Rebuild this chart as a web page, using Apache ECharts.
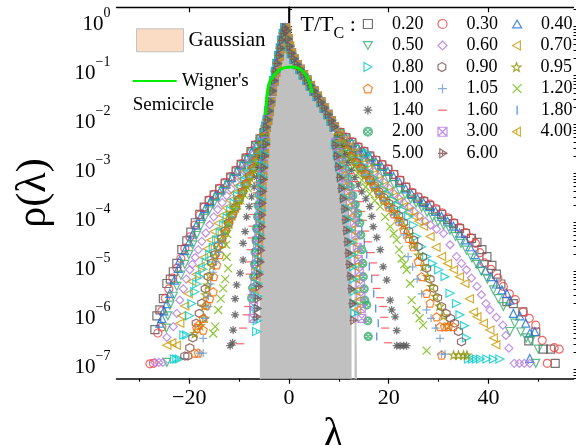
<!DOCTYPE html>
<html>
<head>
<meta charset="utf-8">
<script src="https://cdn.jsdelivr.net/npm/echarts@6/dist/echarts.min.js"></script>
<style>html,body{margin:0;padding:0;background:#fff}#chart{width:576px;height:445px}</style>
</head>
<body>
<div id="chart"></div>
<script>
// Eigenvalue density rho(lambda) for several temperature ratios T/Tc.
// Every point is [lambda, log10(rho)]; rho is restored when series are built.

const tempLabels = ['0.20','0.30','0.40','0.50','0.60','0.70','0.80','0.90','0.95','1.00',
                    '1.05','1.20','1.40','1.60','1.80','2.00','3.00','4.00','5.00','6.00'];

// shared central band (all temperatures coincide here)
const coreBand = [[-4.6,-2.1],[-4.3,-1.95],[-4.0,-1.77],[-3.7,-1.58],[-3.35,-1.36],[-3.0,-1.15],[-2.7,-0.97],[-2.35,-0.8],[-2.0,-0.64],[-1.7,-0.49],[-1.4,-0.33],[-1.1,-0.19],[-0.8,-0.07],[-0.5,-0.13],[-0.2,-0.3],[0.1,-0.45],[0.5,-0.59],[1.0,-0.71],[1.6,-0.82],[2.2,-0.92],[2.9,-1.03],[3.6,-1.14],[4.3,-1.25],[5.0,-1.36],[5.7,-1.47],[6.4,-1.59],[7.1,-1.71],[7.8,-1.84],[8.5,-1.97],[9.1,-2.09]];

// left tails
const t020L = [[-5,-2.21],[-5.8,-2.34],[-6.7,-2.47],[-7.6,-2.6],[-8.6,-2.73],[-9.6,-2.86],[-10.6,-2.99],[-11.7,-3.12],[-12.8,-3.24],[-13.9,-3.36],[-15,-3.48],[-16,-3.6],[-17,-3.73],[-17.9,-3.88],[-18.8,-4.05],[-19.7,-4.24],[-20.5,-4.42],[-21.5,-4.6],[-22.5,-4.88],[-23.2,-5.05],[-23.8,-5.2],[-24.5,-5.29],[-25.2,-5.6],[-25.9,-5.83],[-26.5,-5.95],[-26.9,-6.23]];
const t030L = [[-5,-2.2],[-5.8,-2.33],[-6.7,-2.46],[-7.6,-2.59],[-8.6,-2.72],[-9.6,-2.85],[-10.6,-2.98],[-11.7,-3.11],[-12.8,-3.23],[-13.9,-3.35],[-15,-3.47],[-16,-3.59],[-17,-3.73],[-17.9,-3.89],[-18.9,-4.1],[-19.9,-4.34],[-20.9,-4.57],[-21.7,-4.78],[-22.5,-4.98],[-23.3,-5.18],[-24.1,-5.4],[-24.8,-5.59],[-25.5,-5.85],[-25.5,-6.18],[-26.3,-6.3],[-27.2,-6.92],[-27.9,-6.93]];
const t040L = [[-5,-2.22],[-5.8,-2.35],[-6.6,-2.48],[-7.5,-2.61],[-8.5,-2.74],[-9.5,-2.87],[-10.5,-3.0],[-11.5,-3.13],[-12.6,-3.26],[-13.7,-3.38],[-14.8,-3.5],[-15.8,-3.62],[-16.8,-3.76],[-17.7,-3.92],[-18.6,-4.1],[-19.3,-4.28],[-20,-4.44],[-20.9,-4.62],[-21.9,-4.81],[-22.2,-4.98],[-23,-5.22],[-23.9,-5.49],[-24.5,-5.7],[-25.1,-5.85],[-25.5,-6.0],[-25.9,-6.1]];
const t050L = [[-5,-2.23],[-5.7,-2.36],[-6.5,-2.5],[-7.4,-2.63],[-8.3,-2.76],[-9.2,-2.89],[-10.2,-3.02],[-11.2,-3.15],[-12.2,-3.28],[-13.2,-3.41],[-14.2,-3.54],[-15.2,-3.67],[-16.1,-3.81],[-17,-3.96],[-17.8,-4.13],[-18.6,-4.31],[-19.3,-4.5],[-20.1,-4.7],[-20.9,-4.9],[-21.7,-5.12],[-22.5,-5.35],[-23.2,-5.55],[-23.9,-5.73],[-24.3,-5.95],[-24.6,-6.2],[-24.5,-6.9]];
const t060L = [[-4.9,-2.24],[-5.6,-2.38],[-6.4,-2.52],[-7.2,-2.66],[-8,-2.8],[-8.9,-2.94],[-9.8,-3.08],[-10.7,-3.22],[-11.6,-3.36],[-12.5,-3.5],[-13.4,-3.64],[-14.3,-3.78],[-15.1,-3.93],[-15.9,-4.09],[-16.7,-4.26],[-17.5,-4.43],[-18.2,-4.6],[-18.8,-4.76],[-19.4,-4.9],[-19.9,-5.01],[-20.6,-5.2],[-21.2,-5.4],[-21.9,-5.63],[-22.5,-5.9],[-23.2,-6.17],[-24.5,-6.39],[-25.3,-6.9],[-26.1,-6.9],[-26.9,-6.9]];
const t070L = [[-4.9,-2.25],[-5.5,-2.4],[-6.2,-2.55],[-7,-2.7],[-7.8,-2.85],[-8.6,-3.0],[-9.4,-3.15],[-10.2,-3.3],[-11,-3.45],[-11.8,-3.6],[-12.6,-3.75],[-13.4,-3.9],[-14.2,-4.06],[-15,-4.23],[-15.7,-4.4],[-16.4,-4.58],[-17.1,-4.76],[-17.8,-4.94],[-18.6,-5.1],[-19.5,-5.25],[-20.2,-5.5],[-20.9,-5.75],[-21.5,-5.95],[-21.9,-6.1],[-22.6,-6.55],[-23.5,-6.5],[-24.5,-6.55]];
const t080L = [[-4.9,-2.26],[-5.5,-2.42],[-6.1,-2.58],[-6.8,-2.74],[-7.5,-2.9],[-8.2,-3.05],[-8.9,-3.2],[-9.6,-3.35],[-10.3,-3.5],[-11,-3.65],[-11.7,-3.8],[-12.4,-3.95],[-13.1,-4.1],[-13.8,-4.25],[-14.5,-4.4],[-15.2,-4.55],[-15.9,-4.7],[-16.6,-4.85],[-17.3,-5.0],[-17.9,-5.15],[-18.5,-5.3],[-18.9,-5.46],[-19.5,-5.7],[-20,-5.95],[-20.5,-6.34],[-21.1,-6.34],[-22,-6.83],[-22.5,-6.83],[-23,-6.83]];
const t090L = [[-4.9,-2.27],[-5.4,-2.43],[-6,-2.6],[-6.6,-2.77],[-7.2,-2.93],[-7.9,-3.09],[-8.6,-3.25],[-9.3,-3.41],[-10,-3.57],[-10.7,-3.73],[-11.4,-3.89],[-12.1,-4.05],[-12.8,-4.21],[-13.5,-4.37],[-14.2,-4.53],[-14.9,-4.7],[-15.5,-4.87],[-16.2,-5.15],[-16.8,-5.4],[-17.5,-5.69],[-18,-5.9],[-18.6,-6.1],[-19.3,-6.4],[-19.9,-6.6],[-20.3,-6.77],[-20.9,-6.77]];
const t095L = [[-4.9,-2.27],[-5.4,-2.44],[-6,-2.61],[-6.6,-2.78],[-7.2,-2.94],[-7.9,-3.1],[-8.6,-3.26],[-9.3,-3.42],[-10,-3.58],[-10.7,-3.74],[-11.4,-3.9],[-12.1,-4.06],[-12.8,-4.22],[-13.5,-4.39],[-14.2,-4.56],[-14.8,-4.73],[-15.4,-4.92],[-15.9,-5.12],[-16.3,-5.32],[-16.7,-5.52],[-17,-5.75],[-16.9,-6.0],[-17.8,-6.15],[-18.9,-6.31]];
const t100L = [[-4.9,-2.28],[-5.4,-2.45],[-6,-2.62],[-6.6,-2.79],[-7.2,-2.95],[-7.9,-3.11],[-8.6,-3.27],[-9.3,-3.43],[-10,-3.59],[-10.7,-3.75],[-11.4,-3.91],[-12.1,-4.08],[-12.8,-4.25],[-13.3,-4.47],[-13.9,-4.7],[-14.5,-4.91],[-15.1,-5.15],[-15.2,-5.46],[-15.9,-5.6],[-16.5,-5.73],[-17.2,-6.0],[-17.2,-6.24],[-18.2,-6.14],[-18.5,-6.2],[-18.9,-6.71],[-18.2,-6.71]];
const t105L = [[-4.9,-2.28],[-5.4,-2.46],[-6,-2.63],[-6.6,-2.8],[-7.2,-2.96],[-7.9,-3.12],[-8.6,-3.28],[-9.3,-3.44],[-10,-3.6],[-10.7,-3.76],[-11.4,-3.93],[-12.1,-4.1],[-12.8,-4.28],[-13.4,-4.46],[-14,-4.65],[-14.6,-4.85],[-15.2,-5.06],[-15.7,-5.3],[-16.2,-5.55],[-16.2,-5.76],[-16.8,-6.0],[-17.2,-6.41],[-17.9,-6.71],[-17.2,-6.71]];
const t120L = [[-4.8,-2.3],[-5.3,-2.48],[-5.8,-2.66],[-6.4,-2.84],[-7,-3.01],[-7.6,-3.18],[-8.3,-3.34],[-9,-3.48],[-9.7,-3.6],[-10.4,-3.7],[-11.1,-3.79],[-11.8,-3.88],[-12.1,-4.08],[-12.4,-4.28],[-12.6,-4.5],[-12.5,-4.75],[-12.2,-4.98],[-12.8,-5.2],[-13.2,-5.39],[-13.7,-5.6],[-14.2,-5.83],[-14.8,-6.17],[-15.2,-6.31]];
const t140L = [[-4.8,-2.32],[-5.2,-2.52],[-5.6,-2.72],[-6,-2.92],[-6.5,-3.12],[-7,-3.32],[-7.5,-3.52],[-8,-3.72],[-8.5,-3.93],[-8.8,-4.23],[-9.2,-4.47],[-9.2,-4.81],[-9.8,-5.08],[-10.5,-5.32],[-10.8,-5.6],[-10.8,-5.93],[-11.2,-6.24],[-11.8,-6.56],[-11.3,-6.5]];
const t160L = [[-4.8,-2.34],[-5.1,-2.56],[-5.4,-2.78],[-5.8,-3.0],[-6.2,-3.22],[-6.5,-3.44],[-6.8,-3.66],[-7.1,-3.88],[-7.3,-4.12],[-7.5,-4.36],[-7.7,-4.6],[-7.8,-4.85],[-7.9,-5.1],[-7.5,-5.52],[-8.2,-5.76],[-8.5,-5.93],[-9.2,-6.2],[-9.8,-6.52]];
const t180L = [[-4.8,-2.35],[-5.1,-2.58],[-5.4,-2.8],[-5.7,-3.02],[-6,-3.24],[-6.3,-3.46],[-6.6,-3.68],[-6.8,-3.92],[-7,-4.16],[-7.2,-4.4],[-7.3,-4.65],[-7.4,-4.9],[-7.5,-5.15],[-7.6,-5.45],[-7.8,-5.83]];
const t200L = [[-4.8,-2.37],[-5.1,-2.6],[-5.4,-2.82],[-5.6,-3.04],[-5.8,-3.26],[-6,-3.48],[-6.2,-3.7],[-6.3,-3.93],[-6.5,-4.17],[-6.6,-4.41],[-6.8,-4.65],[-6.9,-4.9],[-7.1,-5.15],[-7.3,-5.38],[-7.5,-5.59]];
const t300L = [[-4.7,-2.39],[-4.9,-2.62],[-5.1,-2.85],[-5.3,-3.08],[-5.5,-3.3],[-5.6,-3.52],[-5.8,-3.75],[-5.9,-4.0],[-6.1,-4.25],[-6.3,-4.5],[-6.5,-4.75],[-6.7,-5.0],[-6.8,-5.25],[-7,-5.5],[-7.1,-5.75],[-7.2,-6.0]];
const t400L = [[-4.7,-2.41],[-4.9,-2.64],[-5.1,-2.87],[-5.2,-3.1],[-5.4,-3.32],[-5.5,-3.55],[-5.6,-3.78],[-5.8,-4.02],[-5.9,-4.26],[-6.1,-4.5],[-6.3,-4.75],[-6.5,-5.0],[-6.6,-5.2],[-6.8,-5.42]];
const t500L = [[-4.7,-2.43],[-4.9,-2.66],[-5,-2.89],[-5.2,-3.12],[-5.3,-3.35],[-5.4,-3.58],[-5.5,-3.8],[-5.7,-4.05],[-5.8,-4.3],[-5.9,-4.55],[-6,-4.8],[-6.1,-5.05],[-6.2,-5.3],[-6.3,-5.55],[-6.4,-5.8],[-6.4,-6.05],[-6.5,-6.27]];
const t600L = [[-4.7,-2.45],[-4.9,-2.69],[-5.1,-2.93],[-5.2,-3.17],[-5.3,-3.41],[-5.4,-3.65],[-5.5,-3.89],[-5.5,-4.13],[-5.6,-4.37],[-5.7,-4.61],[-5.8,-4.85],[-6,-5.1],[-6.1,-5.35],[-6.3,-5.6],[-6.4,-5.8],[-6.5,-5.97]];

// right tails
const t020R = [[10.2,-2.21],[11.4,-2.31],[12.6,-2.41],[13.8,-2.51],[15,-2.6],[16.2,-2.69],[17.4,-2.78],[18.6,-2.87],[19.8,-2.96],[21,-3.07],[22.2,-3.19],[23.4,-3.33],[24.6,-3.45],[25.8,-3.54],[27,-3.62],[28.2,-3.7],[29.4,-3.79],[30.6,-3.88],[31.8,-3.98],[33,-4.07],[34.2,-4.17],[35.4,-4.27],[36.6,-4.37],[37.7,-4.45],[38.7,-4.6],[39.7,-4.74],[40.7,-4.92],[41.6,-5.1],[42.5,-5.3],[43.7,-5.66],[45,-5.7],[46.9,-5.87],[48.1,-6.46],[49.5,-6.28],[51,-6.63],[52.5,-6.63],[53.4,-6.92]];
const t030R = [[10.3,-2.2],[11.5,-2.3],[12.7,-2.4],[13.9,-2.5],[15.1,-2.59],[16.3,-2.68],[17.5,-2.77],[18.7,-2.86],[19.9,-2.95],[21.1,-3.06],[22.3,-3.18],[23.5,-3.32],[24.7,-3.43],[25.9,-3.52],[27.1,-3.6],[28.3,-3.67],[29.5,-3.76],[30.7,-3.85],[31.9,-3.95],[33.1,-4.05],[34.3,-4.15],[35.5,-4.25],[36.5,-4.36],[37.4,-4.47],[38.3,-4.66],[39.2,-4.87],[40.5,-5.0],[41.9,-5.18],[43,-5.35],[44.2,-5.5],[45.4,-5.62],[47,-5.87],[48.2,-6.0],[49.5,-6.14],[50.8,-6.45],[51.8,-6.92],[53.2,-6.6],[54.2,-6.63]];
const t040R = [[10.2,-2.22],[11.4,-2.32],[12.6,-2.42],[13.8,-2.52],[15,-2.62],[16.2,-2.71],[17.4,-2.8],[18.6,-2.9],[19.8,-3.0],[21,-3.11],[22.2,-3.23],[23.4,-3.36],[24.6,-3.47],[25.8,-3.56],[27,-3.64],[28.2,-3.72],[29.4,-3.82],[30.6,-3.92],[31.8,-4.02],[33,-4.12],[34.2,-4.26],[35.3,-4.4],[36.3,-4.54],[37.3,-4.7],[38.3,-4.88],[39.4,-5.02],[40.5,-5.15],[41.6,-5.3],[42.7,-5.42],[43.7,-5.49],[44.3,-5.63],[45,-5.9],[46.3,-5.95],[47.5,-6.1],[48.3,-6.3],[49.3,-6.27],[48.3,-6.82]];
const t050R = [[10.1,-2.23],[11.2,-2.34],[12.3,-2.45],[13.4,-2.55],[14.5,-2.65],[15.6,-2.74],[16.7,-2.84],[17.8,-2.94],[18.9,-3.04],[20,-3.15],[21.1,-3.27],[22.2,-3.38],[23.3,-3.48],[24.4,-3.57],[25.5,-3.65],[26.6,-3.74],[27.7,-3.84],[28.8,-3.94],[29.9,-4.03],[31,-4.1],[32.3,-4.2],[33.4,-4.33],[34.5,-4.47],[35.6,-4.61],[36.7,-4.77],[37.7,-4.9],[38.6,-5.04],[39.8,-5.2],[41,-5.42],[42,-5.6],[43,-5.76],[44.3,-6.27],[45.3,-6.1],[46.5,-6.28],[47.6,-6.4],[48.5,-6.45],[50,-6.63],[49.5,-6.92]];
const t060R = [[10.1,-2.24],[11.1,-2.36],[12.1,-2.48],[13.1,-2.59],[14.1,-2.7],[15.1,-2.8],[16.1,-2.9],[17.1,-3.01],[18.1,-3.12],[19.1,-3.23],[20.1,-3.35],[21.1,-3.46],[22.1,-3.56],[23.1,-3.65],[24.1,-3.73],[25.1,-3.82],[26.2,-3.92],[27.3,-4.02],[28.4,-4.1],[29.6,-4.18],[31,-4.27],[32.3,-4.5],[33.6,-4.74],[34.6,-4.88],[35.6,-5.01],[36.6,-5.18],[37.7,-5.35],[38.6,-5.52],[39.5,-5.7],[40.3,-5.83],[41.6,-5.98],[42.9,-6.14],[43.5,-6.35],[44.1,-6.61],[45.2,-6.92],[46.2,-6.92],[47.2,-6.92],[48.3,-6.92]];
const t070R = [[10,-2.25],[11,-2.37],[12,-2.5],[13,-2.62],[14,-2.73],[15,-2.84],[16,-2.95],[17,-3.06],[18,-3.18],[19,-3.3],[20,-3.42],[21,-3.52],[22,-3.62],[23,-3.72],[24,-3.82],[25,-3.92],[26,-4.02],[27,-4.12],[28.3,-4.33],[29.5,-4.55],[30.6,-4.74],[31.8,-4.88],[33,-5.01],[34.2,-5.15],[35.3,-5.29],[36.2,-5.6],[37,-5.87],[37.7,-5.97],[39,-6.1],[40.3,-6.24],[41,-6.4],[41.5,-6.54]];
const t080R = [[10,-2.26],[11,-2.39],[12,-2.52],[13,-2.65],[14,-2.77],[15,-2.89],[16,-3.01],[17,-3.13],[18,-3.25],[19,-3.37],[20,-3.48],[21,-3.59],[22,-3.7],[23,-3.8],[24,-3.93],[25,-4.1],[25.6,-4.33],[26.6,-4.54],[27.6,-4.74],[28.8,-4.88],[30,-5.01],[31.3,-5.15],[32.3,-5.49],[33.6,-5.7],[34.3,-5.93],[35.2,-6.15],[35.6,-6.4],[36,-6.83],[36.8,-6.83],[37.6,-6.83],[38.4,-6.83],[39.7,-6.83],[41,-6.83],[42.3,-6.83]];
const t090R = [[9.9,-2.27],[10.8,-2.41],[11.7,-2.55],[12.6,-2.68],[13.5,-2.81],[14.4,-2.93],[15.3,-3.05],[16.2,-3.17],[17.1,-3.29],[18,-3.41],[19,-3.53],[20,-3.65],[21,-3.77],[22,-3.9],[23,-4.05],[24,-4.22],[25,-4.4],[25.9,-4.54],[26.8,-4.75],[27.6,-4.98],[28.3,-5.2],[29,-5.39],[29.8,-5.58],[30.6,-5.76],[31.5,-5.9],[32.4,-6.0],[33.2,-6.1],[34,-6.27],[34.6,-6.48]];
const t095R = [[9.9,-2.28],[10.8,-2.42],[11.7,-2.56],[12.6,-2.69],[13.5,-2.82],[14.4,-2.94],[15.3,-3.06],[16.2,-3.18],[17.1,-3.3],[18,-3.43],[19,-3.56],[20,-3.69],[21,-3.82],[22,-3.96],[23,-4.11],[24,-4.29],[25,-4.49],[26,-4.71],[27,-4.94],[27.8,-5.15],[28.6,-5.35],[29.4,-5.55],[30.2,-5.75],[31,-5.95],[31.8,-6.15],[33,-6.75],[34,-6.75],[35,-6.75],[35.7,-6.75]];
const t100R = [[9.9,-2.28],[10.8,-2.43],[11.7,-2.57],[12.6,-2.7],[13.5,-2.83],[14.4,-2.95],[15.3,-3.07],[16.2,-3.19],[17.1,-3.32],[18,-3.45],[19,-3.59],[20,-3.73],[21,-3.87],[22,-4.02],[23,-4.19],[24,-4.37],[24.9,-4.54],[25.9,-4.84],[26.6,-5.15],[27.6,-5.49],[28.3,-5.69],[29.6,-5.97],[30.3,-6.17],[31.2,-6.17],[32,-6.17],[33,-6.17],[30.6,-6.75]];
const t105R = [[9.9,-2.29],[10.8,-2.44],[11.7,-2.58],[12.6,-2.71],[13.5,-2.84],[14.4,-2.96],[15.3,-3.08],[16.2,-3.2],[17.1,-3.33],[18,-3.46],[19,-3.6],[20,-3.74],[21,-3.89],[22,-4.05],[23,-4.3],[23.9,-4.74],[24.8,-4.95],[25.7,-5.2],[26.6,-5.5],[27.6,-5.83],[28.5,-6.0],[29.4,-6.2],[30.3,-6.41],[30.6,-6.73],[31.3,-6.73]];
const t120R = [[9.8,-2.3],[10.6,-2.45],[11.4,-2.6],[12.2,-2.75],[13,-2.9],[13.8,-3.04],[14.6,-3.18],[15.4,-3.32],[16.2,-3.46],[17.2,-3.6],[18.3,-3.72],[19.3,-3.93],[20.3,-4.13],[21,-4.27],[21.6,-4.4],[22.1,-4.6],[22.6,-4.78],[23.1,-4.9],[23.6,-5.01],[24.3,-5.29],[24.6,-5.63],[25.6,-5.83],[26.2,-6.0],[26.9,-6.14],[27.6,-6.66]];
const t140R = [[9.7,-2.32],[10.4,-2.49],[11.1,-2.66],[11.8,-2.82],[12.5,-2.98],[13.2,-3.13],[13.9,-3.28],[14.6,-3.42],[15.4,-3.56],[16.2,-3.72],[16.6,-3.92],[16.9,-4.13],[17.6,-4.35],[18.3,-4.6],[18.9,-4.95],[19.6,-5.22],[20.3,-5.63],[20.6,-5.83],[21.3,-5.97],[21.6,-6.25],[21.6,-6.56],[22.3,-6.56],[23,-6.56],[23.6,-6.56]];
const t160R = [[9.6,-2.34],[10.3,-2.53],[11,-2.71],[11.7,-2.88],[12.4,-3.05],[13.1,-3.21],[13.7,-3.4],[14.2,-3.62],[14.5,-3.82],[14.8,-4.0],[15.3,-4.22],[15.8,-4.44],[16.4,-4.66],[16.9,-4.87],[17.3,-5.12],[17.6,-5.39],[18.3,-5.58],[18.9,-5.76],[19.1,-5.98],[19.3,-6.2],[19.9,-6.5]];
const t180R = [[9.6,-2.36],[10.2,-2.55],[10.8,-2.74],[11.4,-2.93],[12,-3.12],[12.6,-3.3],[13.1,-3.5],[13.6,-3.72],[14.1,-3.95],[14.6,-4.2],[15.1,-4.45],[15.6,-4.7],[16.1,-4.95],[16.6,-5.2],[17,-5.5],[17.4,-5.8],[17.9,-6.1],[17.6,-6.37]];
const t200R = [[9.5,-2.38],[10.1,-2.57],[10.7,-2.76],[11.3,-2.95],[11.8,-3.14],[12.3,-3.32],[12.8,-3.5],[13.3,-3.68],[13.8,-3.86],[14.2,-4.05],[14.4,-4.3],[14.6,-4.6],[14.8,-4.88],[14.9,-5.15],[15.1,-5.4],[15.2,-5.63],[15.6,-5.73],[15.8,-6.05],[15.9,-6.37]];
const t300R = [[9.4,-2.41],[9.9,-2.62],[10.4,-2.83],[10.9,-3.04],[11.4,-3.25],[11.9,-3.45],[12.3,-3.65],[12.7,-3.85],[13.1,-4.05],[13.4,-4.3],[13.7,-4.55],[13.9,-4.8],[14.1,-5.05],[14.3,-5.3],[14.4,-5.55],[14.5,-5.8],[14.6,-6.0]];
const t400R = [[9.4,-2.43],[9.8,-2.65],[10.2,-2.87],[10.6,-3.09],[11,-3.31],[11.4,-3.52],[11.8,-3.73],[12.2,-3.95],[12.5,-4.2],[12.8,-4.45],[13,-4.7],[13.2,-4.95],[13.3,-5.2],[13.4,-5.45],[13.5,-5.65],[13.6,-5.83]];
const t500R = [[9.3,-2.45],[9.7,-2.67],[10.1,-2.89],[10.5,-3.11],[10.9,-3.33],[11.3,-3.54],[11.7,-3.76],[12,-3.98],[12.3,-4.2],[12.5,-4.45],[12.7,-4.7],[12.9,-4.95],[13,-5.2],[13.1,-5.45],[13.2,-5.7],[13.2,-5.9]];
const t600R = [[9.3,-2.47],[9.6,-2.69],[9.9,-2.91],[10.2,-3.13],[10.5,-3.35],[10.8,-3.56],[11.1,-3.77],[11.3,-3.99],[11.5,-4.21],[11.7,-4.44],[11.9,-4.67],[12.1,-4.9],[12.3,-5.14],[12.5,-5.4],[12.7,-5.7],[12.9,-6.04]];

// Gaussian reference histogram (filled down to the axis floor)
const gaussianArea = [[-5.75,-9],[-5.75,-2.1],[-5.4,-1.95],[-5.0,-1.78],[-4.5,-1.6],[-4.0,-1.42],[-3.5,-1.22],[-3.0,-1.03],[-2.5,-0.82],[-2.0,-0.6],[-1.5,-0.38],[-1.1,-0.2],[-0.8,-0.04],[-0.5,-0.2],[-0.1,-0.4],[0.5,-0.62],[1.2,-0.8],[2.0,-0.95],[3.0,-1.1],[4.0,-1.27],[5.0,-1.45],[6.0,-1.63],[7.0,-1.82],[8.0,-2.05],[9.0,-2.3],[9.8,-2.6],[10.5,-3.0],[11.2,-3.4],[11.8,-3.8],[12.2,-4.3],[12.45,-4.8],[12.45,-9],[13.25,-9],[13.25,-3.6],[13.65,-3.6],[13.65,-9]];

// Wigner semicircle
const wignerCurve = [[-4.71,-1.85],[-4.51,-1.55],[-4.21,-1.3],[-3.81,-1.16],[-3.01,-1.04],[-2.0,-0.94],[-1.0,-0.89],[0.2,-0.87],[1.4,-0.88],[2.4,-0.93],[3.2,-1.01],[3.81,-1.12],[4.31,-1.24],[4.61,-1.4]];

const xTickValues = [-20, 0, 20, 40];
const xMinorTickValues = [-30, -10, 10, 30, 50];
const yTickValues = [1e-7, 1e-6, 1e-5, 1e-4, 1e-3, 1e-2, 1e-1, 1];

const leftTails = [t020L,t030L,t040L,t050L,t060L,t070L,t080L,t090L,t095L,t100L,t105L,t120L,t140L,t160L,t180L,t200L,t300L,t400L,t500L,t600L];
const rightTails = [t020R,t030R,t040R,t050R,t060R,t070R,t080R,t090R,t095R,t100R,t105R,t120R,t140R,t160R,t180R,t200R,t300R,t400R,t500R,t600R];

const palette = ['#515151','#F14040','#1A6FDF','#37AD6B','#B177DE','#CC9900','#00CBCC','#7D4E4E','#8E8E00','#FB6501',
                 '#6699CC','#6FB802','#515151','#F14040','#1A6FDF','#37AD6B','#B177DE','#CC9900','#00CBCC','#7D4E4E'];

const P = {
  square: 'path://M0 0L10 0L10 10L0 10Z',
  circle: 'path://M5 0A5 5 0 1 1 5 10A5 5 0 1 1 5 0Z',
  triUp: 'path://M5 0L10 8.66L0 8.66Z',
  triDown: 'path://M0 0L10 0L5 8.66Z',
  diamond: 'path://M5 0L10 5L5 10L0 5Z',
  triLeft: 'path://M8.66 0L8.66 10L0 5Z',
  triRight: 'path://M0 0L8.66 5L0 10Z',
  hexagon: 'path://M5 0L9.33 2.5L9.33 7.5L5 10L0.67 7.5L0.67 2.5Z',
  star: 'path://M5 0L6.18 3.38L9.76 3.45L6.9 5.62L7.94 9.05L5 7L2.06 9.05L3.1 5.62L0.24 3.45L3.82 3.38Z',
  pentagon: 'path://M5 0L9.76 3.45L7.94 9.05L2.06 9.05L0.24 3.45Z',
  plus: 'path://M5 0L5 10M0 5L10 5',
  cross: 'path://M0 0L10 10M10 0L0 10',
  asterisk: 'path://M5 0L5 10M0 5L10 5M1.5 1.5L8.5 8.5M8.5 1.5L1.5 8.5',
  hbar: 'path://M0 0M0 5L10 5M10 10',
  vbar: 'path://M0 0M5 0L5 10M10 10',
  hatch: 'path://M5 0A5 5 0 1 1 5 10A5 5 0 1 1 5 0ZM1.5 1.5L8.5 8.5M8.5 1.5L1.5 8.5M0.5 5L5 0.5L9.5 5L5 9.5Z',
  squareX: 'path://M0 0L10 0L10 10L0 10ZM0 0L10 10M10 0L0 10',
  triLeftBar: 'path://M8.66 0L8.66 10L0 5ZM4.6 2.4L4.6 7.6',
  triRightBar: 'path://M0 0L8.66 5L0 10ZM4.1 2.4L4.1 7.6',
  triRightPlus: 'path://M2 0L10 5L2 10ZM0 5L10 5M5 2.4L5 7.6'
};
const markers = [P.square,P.circle,P.triUp,P.triDown,P.diamond,P.triLeft,P.triRight,P.hexagon,P.star,P.pentagon,
                 P.plus,P.cross,P.asterisk,P.hbar,P.vbar,P.hatch,P.squareX,P.triLeftBar,P.triRightBar,P.triRightPlus];

const serif = "'Liberation Serif','Times New Roman',serif";
const toRho = pts => pts.map(p => [p[0], Math.pow(10, p[1])]);

const xMin = -34.6, xMax = 57.07;
const yMin = Math.pow(10, -7.233), yMax = Math.pow(10, 0.347);

const minorY = [];
for (let e = -8; e <= 0; e++) for (let k = 2; k <= 9; k++) {
  const v = k * Math.pow(10, e);
  if (v > yMin && v < yMax) minorY.push(v);
}

const supText = v => {
  const e = Math.round(Math.log10(v));
  return '{b|10}{s|' + (e < 0 ? '\u2212' + (-e) : String(e)) + '}';
};

const scatterSeries = tempLabels.map((name, i) => ({
  name: name,
  type: 'scatter',
  symbol: markers[i],
  symbolSize: 8,
  itemStyle: { color: 'rgba(0,0,0,0)', borderColor: palette[i], borderWidth: 1.2 },
  data: toRho([].concat(leftTails[i], coreBand, rightTails[i])),
  z: 3,
  silent: true
}));

const chart = echarts.init(document.getElementById('chart'), null, { renderer: 'canvas' });
chart.setOption({
  animation: false,
  backgroundColor: '#fff',
  textStyle: { fontFamily: serif, color: '#000' },
  grid: { left: 116.5, right: 2.5, top: 7.3, bottom: 66.3, containLabel: false, outerBoundsMode: 'none' },
  xAxis: [
    {
      type: 'value', position: 'bottom', min: xMin, max: xMax,
      axisLine: { show: true, lineStyle: { color: '#000', width: 1.6 } },
      axisTick: { show: true, inside: false, length: 5, customValues: xTickValues, lineStyle: { color: '#000', width: 1.2 } },
      axisLabel: { show: true, customValues: xTickValues, margin: 9, fontSize: 22, fontFamily: serif, color: '#000',
                   formatter: v => (v < 0 ? '\u2212' + (-v) : String(v)) },
      splitLine: { show: false },
      name: '\u03bb', nameLocation: 'middle', nameGap: 28,
      nameTextStyle: { fontSize: 42, fontFamily: serif, color: '#000', padding: [0, 23, 0, 0] }
    },
    {
      type: 'value', position: 'bottom', offset: 0, min: xMin, max: xMax,
      axisLine: { show: false },
      axisTick: { show: true, inside: false, length: 3, customValues: xMinorTickValues, lineStyle: { color: '#000', width: 1.1 } },
      axisLabel: { show: false }, splitLine: { show: false }
    },
    {
      type: 'value', position: 'top', min: xMin, max: xMax,
      axisLine: { show: true, lineStyle: { color: '#000', width: 1.4 } },
      axisTick: { show: true, inside: true, length: 5, customValues: xTickValues, lineStyle: { color: '#000', width: 1.2 } },
      axisLabel: { show: false }, splitLine: { show: false }
    }
  ],
  yAxis: [
    {
      type: 'log', position: 'left', min: yMin, max: yMax, logBase: 10,
      axisLine: { show: true, lineStyle: { color: '#000', width: 1.6 } },
      axisTick: { show: true, inside: false, length: 5, customValues: yTickValues, lineStyle: { color: '#000', width: 1.2 } },
      axisLabel: {
        show: true, customValues: yTickValues, margin: 6, formatter: supText,
        rich: {
          b: { fontSize: 21, fontFamily: serif, color: '#000', lineHeight: 36 },
          s: { fontSize: 14, fontFamily: serif, color: '#000', verticalAlign: 'top', lineHeight: 16 }
        }
      },
      splitLine: { show: false },
      name: '\u03c1(\u03bb)', nameLocation: 'middle', nameGap: 62,
      nameTextStyle: { fontSize: 42, fontFamily: serif, color: '#000' }
    },
    {
      type: 'log', position: 'left', offset: 0, min: yMin, max: yMax,
      axisLine: { show: false },
      axisTick: { show: true, inside: true, length: 3, customValues: minorY, lineStyle: { color: '#000', width: 1 } },
      axisLabel: { show: false }, splitLine: { show: false }
    },
    {
      type: 'log', position: 'right', min: yMin, max: yMax,
      axisLine: { show: true, lineStyle: { color: '#000', width: 1.4 } },
      axisTick: { show: true, inside: true, length: 5, customValues: yTickValues, lineStyle: { color: '#000', width: 1.2 } },
      axisLabel: { show: false }, splitLine: { show: false }
    },
    {
      type: 'log', position: 'right', offset: 0, min: yMin, max: yMax,
      axisLine: { show: false },
      axisTick: { show: true, inside: false, length: 3, customValues: minorY, lineStyle: { color: '#000', width: 1 } },
      axisLabel: { show: false }, splitLine: { show: false }
    }
  ],
  legend: [
    {
      data: tempLabels, orient: 'horizontal', left: 362.8, top: 13.2, width: 225, padding: 0,
      itemGap: 0, itemWidth: 9, itemHeight: 9, symbolKeepAspect: true, selectedMode: false,
      itemStyle: { borderWidth: 1.2 },
      textStyle: { fontSize: 18, fontFamily: serif, color: '#000', lineHeight: 21.55, width: 45.5, padding: [0, 0, 0, 14.5] }
    },
    {
      data: [{ name: 'Gaussian', icon: 'rect', itemStyle: { color: '#f9dcc3', borderColor: '#c4c4c4', borderWidth: 1 } }],
      left: 136, top: 28.3, padding: 0, itemWidth: 47, itemHeight: 23, selectedMode: false,
      textStyle: { fontSize: 21, fontFamily: serif, color: '#000' }
    },
    {
      data: [{ name: "Wigner's Semicircle",
               itemStyle: { color: 'rgba(0,0,0,0)', borderColor: 'rgba(0,0,0,0)', borderWidth: 0, opacity: 0 } }],
      left: 131.7, top: 71, padding: 0, itemWidth: 44, itemHeight: 14, selectedMode: false,
      formatter: () => "Wigner's",
      textStyle: { fontSize: 19, fontFamily: serif, color: '#000', lineHeight: 20 }
    }
  ],
  graphic: [
    { type: 'text', left: 300.5, top: 14, silent: true,
      style: { text: '{a|T/T}{b|C}{a| :}', rich: {
        a: { fontSize: 22, fontFamily: serif, fill: '#000' },
        b: { fontSize: 16, fontFamily: serif, fill: '#000', padding: [18, 0, 0, 0] } } } },
    { type: 'text', left: 132.7, top: 96, silent: true,
      style: { text: 'Semicircle', fontSize: 19, fontFamily: serif, fill: '#000' } }
  ],
  series: [
    {
      name: 'Gaussian', type: 'line', data: toRho(gaussianArea), showSymbol: false, symbol: 'none',
      lineStyle: { color: '#c0c0c0', width: 1 }, itemStyle: { color: '#c0c0c0' },
      areaStyle: { color: '#c0c0c0', opacity: 1, origin: 'start' }, z: 1, silent: true
    }
  ].concat(scatterSeries, [
    {
      name: "Wigner's Semicircle", type: 'line', data: toRho(wignerCurve), symbol: 'none', showSymbol: false,
      smooth: 0.3, lineStyle: { color: '#00ee00', width: 3 }, itemStyle: { color: '#00ee00' }, z: 4, silent: true
    }
  ])
});
</script>
</body>
</html>
